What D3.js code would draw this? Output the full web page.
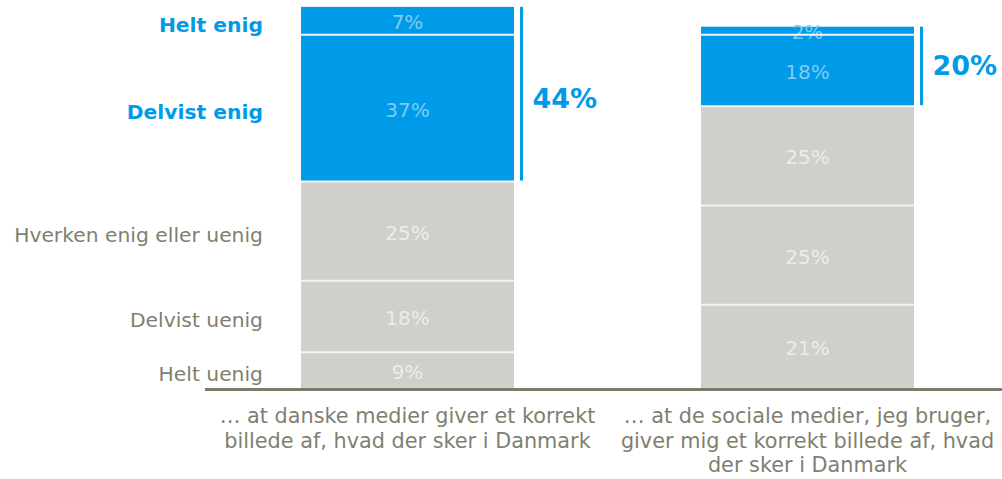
<!DOCTYPE html>
<html>
<head>
<meta charset="utf-8">
<script src="https://cdn.jsdelivr.net/npm/d3@7"></script>
<style>
  body { margin: 0; background: #fff; }
  svg { display: block; font-family: "DejaVu Sans", sans-serif; }
</style>
</head>
<body>
<svg id="chart"></svg>
<script>
// categories (x) and answer levels (stack order, bottom to top)
const categories = [
  "… at danske medier giver et korrekt|billede af, hvad der sker i Danmark",
  "… at de sociale medier, jeg bruger,|giver mig et korrekt billede af, hvad|der sker i Danmark"
];
const levels = ["Helt uenig", "Delvist uenig", "Hverken enig eller uenig", "Delvist enig", "Helt enig"];
const agreeLevels = ["Delvist enig", "Helt enig"];

// percent per level, one array per category
const danskeMedier = [9, 18, 25, 37, 7];
const socialeMedier = [21, 25, 25, 18, 2];
const agreeTotals = [44, 20];

const width = 1002, height = 479;
const baseline = 388;

const svg = d3.select("#chart")
  .attr("width", width)
  .attr("height", height);

const rows = categories.map((c, i) => {
  const vals = [danskeMedier, socialeMedier][i];
  const r = { cat: c };
  levels.forEach((l, j) => r[l] = vals[j]);
  return r;
});

const stack = d3.stack().keys(levels);
const series = stack(rows);

const x = d3.scaleBand()
  .domain(categories)
  .range([207.5, 1007.5])
  .paddingInner(0.4675)
  .paddingOuter(0.23375);

const y = d3.scaleLinear()
  .domain([0, 100])
  .range([baseline, baseline - 397]);

const blue = "#009be8", grey = "#d0cfca";
const isAgree = k => agreeLevels.includes(k);

// segments
const layer = svg.selectAll("g.layer")
  .data(series)
  .enter()
  .append("g")
  .attr("class", "layer");

layer.selectAll("rect")
  .data(s => s.map(d => ({ key: s.key, d })))
  .enter()
  .append("rect")
  .attr("x", e => x(e.d.data.cat))
  .attr("y", e => y(e.d[1]))
  .attr("width", x.bandwidth())
  .attr("height", e => y(e.d[0]) - y(e.d[1]))
  .attr("fill", e => isAgree(e.key) ? blue : grey);

// value labels
layer.selectAll("text")
  .data(s => s.map(d => ({ key: s.key, d })))
  .enter()
  .append("text")
  .attr("x", e => x(e.d.data.cat) + x.bandwidth() / 2)
  .attr("y", e => (y(e.d[0]) + y(e.d[1])) / 2 + 1.5)
  .attr("dy", "0.36em")
  .attr("text-anchor", "middle")
  .style("font-size", "20px")
  .attr("fill", e => isAgree(e.key) ? "#7fcbf2" : "#ecece8")
  .text(e => (e.d[1] - e.d[0]) + "%");

// white separators between segments (drawn on top)
series.slice(0, -1).forEach(s => {
  svg.append("g").selectAll("line")
    .data(s)
    .enter()
    .append("line")
    .attr("x1", d => x(d.data.cat))
    .attr("x2", d => x(d.data.cat) + x.bandwidth())
    .attr("y1", d => y(d[1]))
    .attr("y2", d => y(d[1]))
    .attr("stroke", "#f4f4f2")
    .attr("stroke-width", 2);
});

// bracket for agree total
const agreeBottom = series[levels.indexOf("Delvist enig")];
const agreeTop = series[levels.indexOf("Helt enig")];
categories.forEach((c, i) => {
  const bx = x(c) + x.bandwidth() + 7.5;
  const y0 = y(agreeBottom[i][0]);
  const y1 = y(agreeTop[i][1]);
  svg.append("line")
    .attr("x1", bx).attr("x2", bx)
    .attr("y1", y1).attr("y2", y0 - 1)
    .attr("stroke", blue)
    .attr("stroke-width", 3);
  svg.append("text")
    .attr("x", bx + 11)
    .attr("y", (y0 + y1) / 2 + (i === 0 ? 4 : -1))
    .attr("dy", "0.36em")
    .style("font-size", "27px")
    .style("font-weight", "bold")
    .attr("fill", blue)
    .text(agreeTotals[i] + "%");
});

// level labels to the left of the first bar
svg.append("g").selectAll("text")
  .data(series)
  .enter()
  .append("text")
  .attr("x", 263)
  .attr("y", s => (y(s[0][0]) + y(s[0][1])) / 2 + 3.5)
  .attr("dy", "0.36em")
  .attr("text-anchor", "end")
  .style("font-size", s => isAgree(s.key) ? "20.3px" : "20.3px")
  .style("font-weight", s => isAgree(s.key) ? "bold" : "normal")
  .attr("fill", s => isAgree(s.key) ? blue : "#7f7f6f")
  .text(s => s.key);

// baseline axis
svg.append("line")
  .attr("x1", 205).attr("x2", width)
  .attr("y1", baseline + 1.5).attr("y2", baseline + 1.5)
  .attr("stroke", "#7c7c6a")
  .attr("stroke-width", 3);

// category labels
svg.append("g").selectAll("text")
  .data(categories)
  .enter()
  .append("text")
  .attr("x", c => x(c) + x.bandwidth() / 2)
  .attr("y", 423)
  .attr("text-anchor", "middle")
  .style("font-size", "20.8px")
  .attr("fill", "#7f7f6f")
  .each(function(c) {
    const t = d3.select(this);
    c.split("|").forEach((line, k) => {
      t.append("tspan")
        .attr("x", x(c) + x.bandwidth() / 2)
        .attr("dy", k === 0 ? 0 : 24.5)
        .text(line);
    });
  });
</script>
</body>
</html>
